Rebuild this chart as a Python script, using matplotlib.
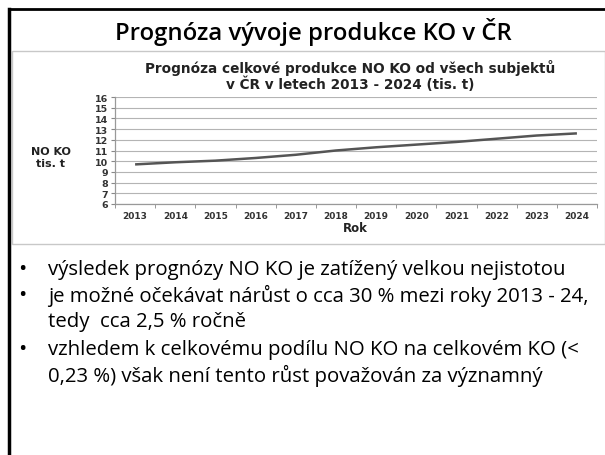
import matplotlib
matplotlib.use("Agg")
import matplotlib.pyplot as plt
from matplotlib.lines import Line2D
from matplotlib.patches import Rectangle

years = ["2013", "2014", "2015", "2016", "2017", "2018", "2019", "2020", "2021", "2022", "2023", "2024"]
values = [9.7, 9.9, 10.05, 10.3, 10.6, 11.0, 11.3, 11.55, 11.8, 12.1, 12.4, 12.6]
y_ticks = list(range(6, 17))

slide_title = "Prognóza vývoje produkce KO v ČR"
chart_title = "Prognóza celkové produkce NO KO od všech subjektů\nv ČR v letech 2013 - 2024 (tis. t)"
y_label = "NO KO\ntis. t"
x_label = "Rok"
bullets = [
    "výsledek prognózy NO KO je zatížený velkou nejistotou",
    "je možné očekávat nárůst o cca 30 % mezi roky 2013 - 24,\ntedy  cca 2,5 % ročně",
    "vzhledem k celkovému podílu NO KO na celkovém KO (<\n0,23 %) však není tento růst považován za významný",
]

W, H = 605, 456
fig = plt.figure(figsize=(W / 100, H / 100), dpi=100)

def fx(px):
    return px / W

def fy(py):
    return 1 - py / H

# slide frame (top and left black lines)
fig.add_artist(Line2D([fx(9), 1.0], [fy(10), fy(10)], color="black", lw=2.0, transform=fig.transFigure))
fig.add_artist(Line2D([fx(9), fx(9)], [fy(10), 0.0], color="black", lw=2.5, transform=fig.transFigure))

# slide title
fig.text(fx(313), fy(32), slide_title, ha="center", va="center", fontsize=17.2,
         family="Open Sans", weight="semibold", color="black")

# chart image box
box = Rectangle((fx(12), fy(245)), fx(605 - 12), (245 - 52) / H, transform=fig.transFigure,
                facecolor="white", edgecolor="#c8c8c8", lw=1.0, zorder=-1)
fig.add_artist(box)

ax = fig.add_axes([fx(115), fy(205), fx(597 - 115), (205 - 98) / H])
ax.set_zorder(2)
ax.patch.set_alpha(0)
x = list(range(len(years)))
ax.plot(x, values, color="#555555", lw=1.8, solid_capstyle="butt")
ax.set_xlim(-0.5, len(years) - 0.5)
ax.set_ylim(6, 16)
ax.set_yticks(y_ticks)
ax.set_xticks(x)
ax.set_xticklabels(years)
ax.set_xticks([i - 0.5 for i in range(len(years) + 1)], minor=True)
ax.tick_params(axis="x", which="major", length=0, pad=5, labelsize=6.5, labelcolor="#333333")
ax.tick_params(axis="x", which="minor", length=3, color="#888888", direction="out")
ax.tick_params(axis="y", which="major", length=3, color="#888888", pad=2, labelsize=6.8, labelcolor="#333333")
for lab in ax.get_xticklabels() + ax.get_yticklabels():
    lab.set_fontweight("bold")
ax.grid(axis="y", color="#b4b4b4", lw=0.8)
ax.set_axisbelow(True)
for s in ["top", "right"]:
    ax.spines[s].set_visible(False)
for s in ["left", "bottom"]:
    ax.spines[s].set_color("#999999")
    ax.spines[s].set_linewidth(0.9)

fig.text(fx(350), fy(76), chart_title, ha="center", va="center", fontsize=9.8,
         weight="bold", color="#222222", linespacing=1.05)
fig.text(fx(51), fy(158), y_label, ha="center", va="center", fontsize=8,
         weight="bold", color="#222222", linespacing=1.2)
fig.text(fx(355), fy(229), x_label, ha="center", va="center", fontsize=8.5,
         weight="bold", color="#222222")

# bullets
bullet_y = [270, 296, 350]
for yy, txt in zip(bullet_y, bullets):
    fig.text(fx(22), fy(yy), "•", ha="center", va="center", fontsize=16, family="Open Sans", color="black")
    fig.text(fx(48), fy(yy), txt.split("\n")[0], ha="left", va="center", fontsize=14.7,
             family="Open Sans", color="black")
    if "\n" in txt:
        fig.text(fx(48), fy(yy + 26), txt.split("\n")[1], ha="left", va="center", fontsize=14.7,
                 family="Open Sans", color="black")

fig.savefig("out.png", dpi=100)
